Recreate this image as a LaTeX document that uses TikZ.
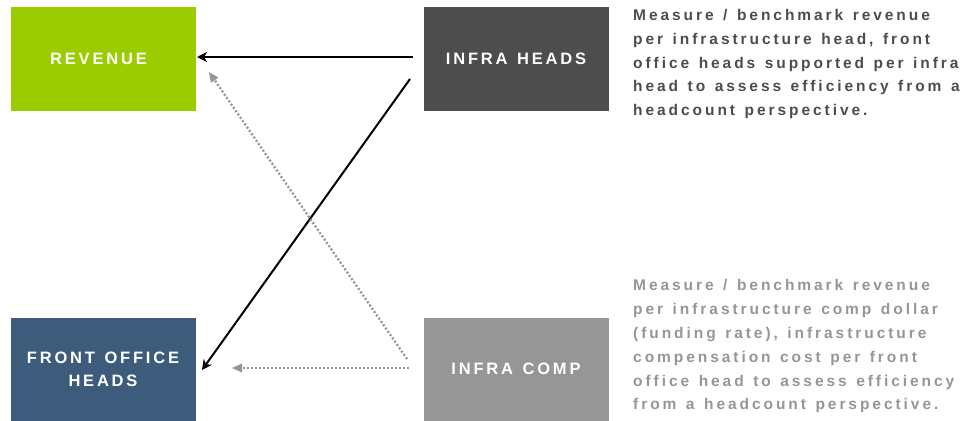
\documentclass[tikz,border=0pt]{standalone}
\usepackage{fontspec}
\setmainfont{Liberation Sans}
\newfontfamily\boxlabelfont[LetterSpace=17]{Liberation Sans}
\newfontfamily\notefont[LetterSpace=19]{Liberation Sans}
\usetikzlibrary{arrows.meta}

% wider gaps between words of the letter-spaced texts
\newcommand\widewordspace{\spaceskip 9.5pt plus 1pt\relax}

\definecolor{revgreen}{RGB}{155,204,0}
\definecolor{headgray}{RGB}{77,77,77}
\definecolor{fonavy}{RGB}{61,92,124}
\definecolor{compgray}{RGB}{150,150,150}
\definecolor{dotgray}{RGB}{150,150,150}

\tikzset{
  x=1pt, y=-1pt,
  blocklabel/.style={inner sep=0pt, text=white, align=center,
    font=\boxlabelfont\bfseries\fontsize{16.5}{23}\selectfont,
    execute at begin node=\widewordspace},
  block/.style={blocklabel, rectangle, minimum width=185pt, minimum height=103pt},
  note/.style={anchor=north west, inner sep=0pt, align=left, text width=345pt,
    font=\notefont\bfseries\fontsize{15.5}{23.8}\selectfont,
    execute at begin node=\widewordspace},
  solidlink/.style={draw=black, line width=2pt,
    -{Stealth[length=10pt,width=10pt,inset=3pt]}},
  dottedlink/.style={draw=dotgray, line width=2.3pt, dash pattern=on 2pt off 2pt,
    -{Triangle[length=10pt,width=9pt,fill=dotgray,line width=0pt]}},
}

\begin{document}
\begin{tikzpicture}
  \path[use as bounding box] (0,0) rectangle (976,420);

  % measure boxes
  \node[block, fill=revgreen] (rev) at (103,59) {};
  \node[blocklabel] (revlabel) at ([xshift=-4.5pt]rev.center) {REVENUE};
  \node[block, fill=headgray] (ih) at (516,59) {INFRA HEADS};
  \node[block, fill=fonavy] (fo) at (103,369) {FRONT OFFICE\\HEADS};
  \node[block, fill=compgray] (ic) at (516,369) {INFRA COMP};

  % descriptions
  \node[note, text=headgray] (n1) at (633,9)
    {Measure / benchmark revenue\\
     per infrastructure head, front\\
     office heads supported per infra\\
     head to assess efficiency from a\\
     headcount perspective.};
  \node[note, text=compgray] (n2) at (633,279.5)
    {Measure / benchmark revenue\\
     per infrastructure comp dollar\\
     (funding rate), infrastructure\\
     compensation cost per front\\
     office head to assess efficiency\\
     from a headcount perspective.};

  % connector end points
  \coordinate (ihA) at (413,57);
  \coordinate (revA) at (197,57);
  \coordinate (ihB) at (410,79);
  \coordinate (foB) at (202,370);
  \coordinate (icC) at (407,359);
  \coordinate (revC) at (209,72);
  \coordinate (icD) at (409,368);
  \coordinate (foD) at (232,368);

  % head-count links
  \draw[solidlink] (ihA) -- (revA);
  \draw[solidlink] (ihB) -- (foB);

  % compensation links
  \draw[dottedlink] (icC) -- (revC);
  \draw[dottedlink] (icD) -- (foD);
\end{tikzpicture}
\end{document}
